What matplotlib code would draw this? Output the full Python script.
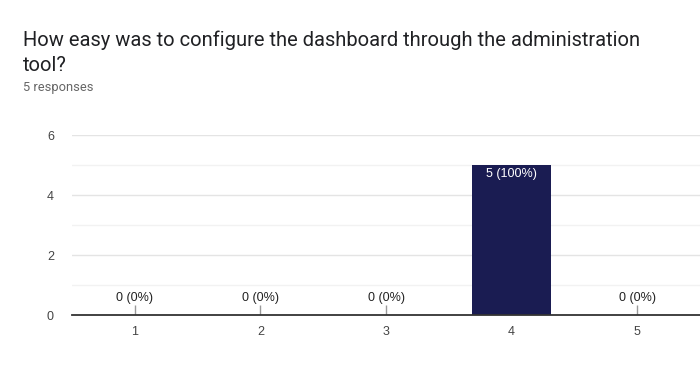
import matplotlib
matplotlib.use("Agg")
import matplotlib.pyplot as plt

categories = ["1", "2", "3", "4", "5"]
counts = [0, 0, 0, 5, 0]
total = 5
title = "How easy was to configure the dashboard through the administration\ntool?"
subtitle = "5 responses"

plt.rcParams['font.family'] = ['Roboto', 'DejaVu Sans']
lab_font = ['Liberation Sans', 'DejaVu Sans']

fig = plt.figure(figsize=(7, 3.9), dpi=100)
ax = fig.add_axes([72/700, 1-315/390, 1-72/700, 180/390])

x = list(range(1, len(categories)+1))
ax.bar(x, counts, width=0.63, color="#1a1c52", zorder=3)

for xi, c in zip(x, counts):
    pct = round(100*c/total)
    lab = f"{c} ({pct}%)"
    if c > 0:
        ax.text(xi, c - 0.1, lab, ha="center", va="top", color="white", fontsize=9, family=lab_font, zorder=4)
    else:
        ax.vlines(xi, 0, 0.33, color="#999999", linewidth=1, zorder=2)
        ax.text(xi, 0.38, lab, ha="center", va="bottom", color="#222222", fontsize=9, family=lab_font, zorder=4)

ax.set_xlim(0.5, 5.5)
ax.set_ylim(0, 6)
ax.set_xticks(x)
ax.set_xticklabels(categories, family=lab_font)
ax.set_yticks([0, 2, 4, 6])
ax.set_yticklabels(["0", "2", "4", "6"], family=lab_font)
ax.set_yticks([1, 3, 5], minor=True)
ax.tick_params(axis="both", length=0, labelsize=9, labelcolor="#444444")
ax.tick_params(axis="y", which="minor", length=0)
ax.tick_params(axis="y", pad=13)
ax.tick_params(axis="x", pad=8)
ax.grid(axis="y", which="major", color="#e4e4e4", linewidth=1, zorder=0)
ax.grid(axis="y", which="minor", color="#f2f2f2", linewidth=1, zorder=0)
for s in ["top", "right", "left"]:
    ax.spines[s].set_visible(False)
ax.spines["bottom"].set_color("#333333")
ax.spines["bottom"].set_linewidth(1.3)
ax.spines["bottom"].set_zorder(5)

fig.text(23/700, 1-46/390, title.split("\n")[0], ha="left", va="baseline", fontsize=14.5, color="#202124")
fig.text(23/700, 1-71/390, title.split("\n")[1], ha="left", va="baseline", fontsize=14.5, color="#202124")
fig.text(23/700, 1-91/390, subtitle, ha="left", va="baseline", fontsize=9.3, color="#666666")

fig.savefig("out.png", dpi=100)
